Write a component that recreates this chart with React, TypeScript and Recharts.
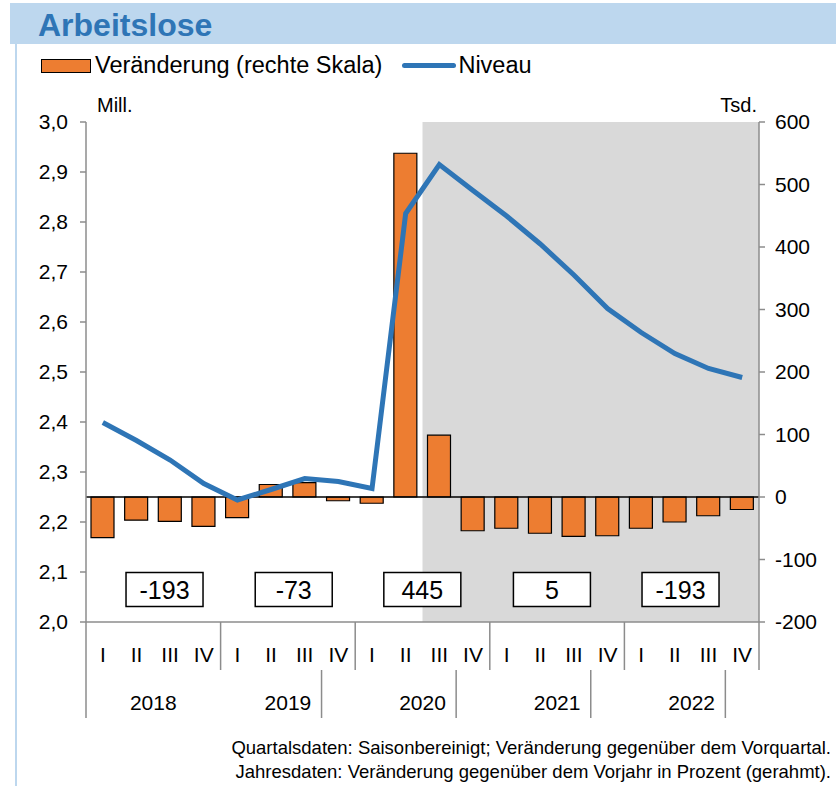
import React from "react";
import {
  Bar,
  ComposedChart,
  Line,
  ReferenceArea,
  ReferenceDot,
  ReferenceLine,
  XAxis,
  YAxis,
} from "recharts";

// quarters 2018 I .. 2022 IV
const years = ["2018", "2019", "2020", "2021", "2022"];
const quarters = ["I", "II", "III", "IV"];

// change vs previous quarter, thousands (right axis)
const veraenderung = [
  -65, -37, -39, -47, -33, 20, 23, -6, -10, 550, 99, -54, -50, -58, -63, -62,
  -50, -40, -30, -20,
];

// level, millions (left axis)
const niveau = [
  2.399, 2.363, 2.324, 2.277, 2.244, 2.265, 2.287, 2.281, 2.267, 2.817, 2.915,
  2.863, 2.812, 2.756, 2.694, 2.627, 2.579, 2.537, 2.507, 2.489,
];

// yearly change in percent, boxed
const jahresWerte = ["-193", "-73", "445", "5", "-193"];

const leftTicks = [2.0, 2.1, 2.2, 2.3, 2.4, 2.5, 2.6, 2.7, 2.8, 2.9, 3.0];
const rightTicks = [-200, -100, 0, 100, 200, 300, 400, 500, 600];

const data = years.flatMap((y, yi) =>
  quarters.map((q, qi) => ({
    key: `${y} ${q}`,
    year: y,
    quarter: q,
    veraenderung: veraenderung[yi * 4 + qi],
    niveau: niveau[yi * 4 + qi],
  }))
);

const W = 836;
const H = 786;
const LEFT = 86;
const RIGHT = 759;
const TOP = 122;
const BOTTOM = 622;
const BAND = (RIGHT - LEFT) / data.length;
const FONT = "'Liberation Sans', Arial, sans-serif";
const AXIS = "#8c8c8c";

const QuarterTick = (props: any) => {
  const { x, payload, index } = props;
  const d = data[index];
  const left = x - BAND / 2;
  return (
    <g>
      <text
        x={x}
        y={BOTTOM + 40}
        textAnchor="middle"
        fontSize={21}
        fontFamily={FONT}
        fill="#000"
      >
        {d ? d.quarter : payload.value}
      </text>
      {index % 4 === 0 && index > 0 && (
        <line x1={left} x2={left} y1={BOTTOM} y2={BOTTOM + 48} stroke={AXIS} strokeWidth={1.5} />
      )}
      {index === data.length - 1 && (
        <line x1={x + BAND / 2} x2={x + BAND / 2} y1={BOTTOM} y2={BOTTOM + 48} stroke={AXIS} strokeWidth={1.5} />
      )}
      {index % 4 === 3 && index > 3 && (
        <line x1={left} x2={left} y1={BOTTOM + 48} y2={BOTTOM + 96} stroke={AXIS} strokeWidth={1.5} />
      )}
      {index % 4 === 1 && (
        <text
          x={x + BAND / 2}
          y={BOTTOM + 88}
          textAnchor="middle"
          fontSize={21}
          fontFamily={FONT}
          fill="#000"
        >
          {d.year}
        </text>
      )}
    </g>
  );
};

const boxShift = [-5.6, -11, -17, -22, -28];

const makeBox = (label: string, shift: number) => (props: any) => {
  const { cx, cy } = props;
  const w = 77;
  const h = 34;
  return (
    <g>
      <rect
        x={cx + shift - w / 2}
        y={cy - h / 2}
        width={w}
        height={h}
        fill="#fff"
        stroke="#000"
        strokeWidth={1.5}
      />
      <text
        x={cx + shift}
        y={cy + 9}
        textAnchor="middle"
        fontSize={25}
        fontFamily={FONT}
        fill="#000"
      >
        {label}
      </text>
    </g>
  );
};

export default function App() {
  return (
    <div
      style={{
        position: "absolute",
        left: 0,
        top: 0,
        width: W,
        height: H,
        background: "#fff",
        fontFamily: FONT,
        overflow: "hidden",
      }}
    >
      <div
        style={{
          position: "absolute",
          left: 10,
          top: 3,
          width: W - 10,
          height: 41,
          background: "#BDD7EE",
        }}
      />
      <div
        style={{
          position: "absolute",
          left: 15,
          top: 44,
          width: 2,
          height: H - 44,
          background: "#BDD7EE",
        }}
      />
      <div
        style={{
          position: "absolute",
          left: 38,
          top: 7,
          fontSize: 32,
          fontWeight: "bold",
          color: "#2E75B6",
        }}
      >
        Arbeitslose
      </div>
      {/* legend */}
      <div
        style={{
          position: "absolute",
          left: 41,
          top: 52,
          display: "flex",
          alignItems: "center",
          fontSize: 23.5,
          color: "#000",
        }}
      >
        <span
          style={{
            display: "inline-block",
            width: 48,
            height: 12,
            background: "#ED7D31",
            border: "1.5px solid #000",
            marginRight: 4,
          }}
        />
        <span>Veränderung (rechte Skala)</span>
        <span
          style={{
            display: "inline-block",
            width: 54,
            height: 5,
            borderRadius: 3,
            background: "#2E75B6",
            marginLeft: 20,
            marginRight: 2,
          }}
        />
        <span>Niveau</span>
      </div>
      <div style={{ position: "absolute", left: 97, top: 94, fontSize: 20 }}>Mill.</div>
      <div style={{ position: "absolute", right: W - 757, top: 94, fontSize: 20 }}>Tsd.</div>

      <div style={{ position: "absolute", left: 0, top: 0 }}>
        <ComposedChart
          width={W}
          height={H}
          data={data}
          margin={{ top: TOP, right: 0, bottom: 0, left: 0 }}
          barCategoryGap={0}
        >
          <ReferenceArea
            x1="2020 III"
            x2="2022 IV"
            yAxisId="right"
            y1={-200}
            y2={600}
            fill="#D9D9D9"
            fillOpacity={1}
            stroke="none"
            ifOverflow="visible"
          />
          <XAxis
            dataKey="key"
            height={H - BOTTOM}
            interval={0}
            tickLine={false}
            axisLine={{ stroke: AXIS, strokeWidth: 1.5 }}
            tick={<QuarterTick />}
          />
          <YAxis
            yAxisId="left"
            orientation="left"
            width={LEFT}
            domain={[2.0, 3.0]}
            ticks={leftTicks}
            interval={0}
            tickFormatter={(v: number) => v.toFixed(1).replace(".", ",")}
            tick={{ fontSize: 21, fill: "#000", fontFamily: FONT }}
            tickLine={{ stroke: AXIS, strokeWidth: 1.5 }}
            tickSize={6}
            tickMargin={12}
            axisLine={{ stroke: AXIS, strokeWidth: 1.5 }}
            allowDataOverflow
          />
          <YAxis
            yAxisId="right"
            orientation="right"
            width={W - RIGHT}
            domain={[-200, 600]}
            ticks={rightTicks}
            interval={0}
            tick={{ fontSize: 21, fill: "#000", fontFamily: FONT }}
            tickLine={{ stroke: AXIS, strokeWidth: 1.5 }}
            tickSize={6}
            tickMargin={10}
            axisLine={{ stroke: AXIS, strokeWidth: 1.5 }}
            allowDataOverflow
          />
          <ReferenceLine yAxisId="right" y={0} stroke="#000" strokeWidth={1.5} />
          <Bar
            yAxisId="right"
            dataKey="veraenderung"
            fill="#ED7D31"
            stroke="#000"
            strokeWidth={1.2}
            barSize={23}
            isAnimationActive={false}
          />
          <Line
            yAxisId="left"
            dataKey="niveau"
            stroke="#2E75B6"
            strokeWidth={5}
            dot={false}
            activeDot={false}
            isAnimationActive={false}
          />
          {jahresWerte.map((v, i) => (
            <ReferenceDot
              key={i}
              yAxisId="right"
              x={`${years[i]} III`}
              y={-148}
              ifOverflow="visible"
              shape={makeBox(v, boxShift[i])}
            />
          ))}
        </ComposedChart>
      </div>
      <svg
        width={W}
        height={H}
        style={{ position: "absolute", left: 0, top: 0, pointerEvents: "none" }}
      >
        <line x1={LEFT} x2={LEFT} y1={BOTTOM} y2={BOTTOM + 96} stroke={AXIS} strokeWidth={1.5} />
      </svg>
      <div
        style={{
          position: "absolute",
          right: 5,
          top: 736,
          fontSize: 18.5,
          lineHeight: "24px",
          textAlign: "right",
          color: "#000",
          whiteSpace: "nowrap",
        }}
      >
        Quartalsdaten: Saisonbereinigt; Veränderung gegenüber dem Vorquartal.
        <br />
        Jahresdaten: Veränderung gegenüber dem Vorjahr in Prozent (gerahmt).
      </div>
    </div>
  );
}
